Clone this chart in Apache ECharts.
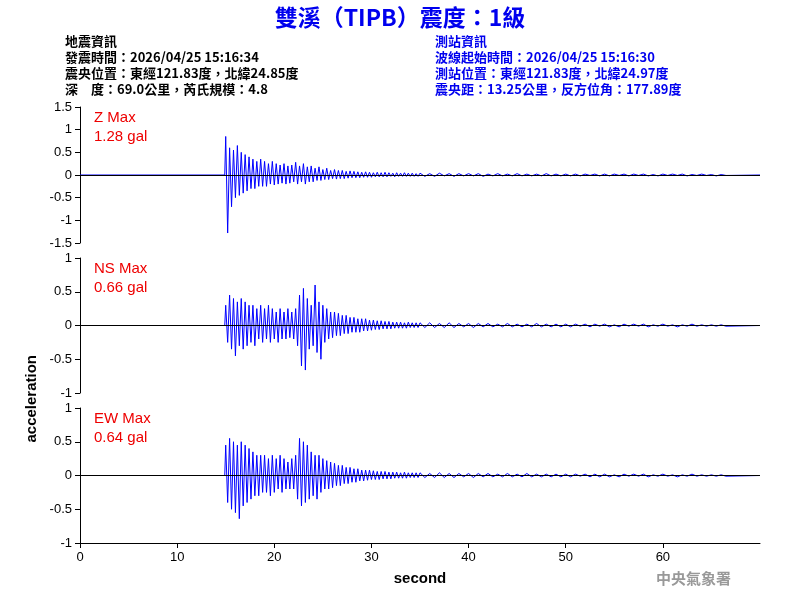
<!DOCTYPE html>
<html><head><meta charset="utf-8">
<script src="https://cdn.jsdelivr.net/npm/echarts@6/dist/echarts.min.js"></script>
<style>body{margin:0}#c{width:800px;height:600px}</style></head>
<body><div id="c"></div>
<script>
const segStart=15.0, segStep=0.2, tailStart=35.0, tailStep=0.5;
const zVals=[0.85,-1.28,0.6,-0.7,0.55,-0.5,0.65,-0.45,0.5,-0.4,
0.45,-0.35,0.4,-0.3,0.35,-0.3,0.3,-0.25,0.35,-0.25,
0.3,-0.25,0.25,-0.2,0.3,-0.22,0.25,-0.2,0.22,-0.18,
0.25,-0.2,0.2,-0.18,0.22,-0.15,0.28,-0.2,0.2,-0.15,
0.25,-0.2,0.18,-0.15,0.2,-0.15,0.15,-0.12,0.18,-0.12,
0.12,-0.1,0.15,-0.1,0.1,-0.08,0.12,-0.09,0.1,-0.08,
0.1,-0.08,0.08,-0.07,0.09,-0.06,0.08,-0.06,0.07,-0.06,
0.06,-0.05,0.07,-0.05,0.06,-0.05,0.05,-0.04,0.06,-0.04,
0.05,-0.04,0.06,-0.04,0.05,-0.03,0.04,-0.04,0.05,-0.03,
0.04,-0.03,0.05,-0.03,0.04,-0.03,0.04,-0.03,0.03,-0.03];
const zTail=[0.04,-0.03,0.03,-0.03,0.04,-0.02,0.03,-0.03,0.03,-0.02,0.03,-0.02,0.03,-0.03,0.02,-0.02,0.03,-0.02,0.02,-0.02,0.03,-0.02,0.02,-0.02,0.02,-0.02,0.03,-0.02,0.02,-0.02,0.02,-0.02,0.02,-0.02,0.02,-0.01,0.02,-0.02,0.02,-0.02,0.02,-0.01,0.02,-0.02,0.02,-0.01,0.02,-0.02,0.01,-0.02,0.02,-0.01,0.02,-0.01,0.02,-0.02,0.01,-0.01,0.02,-0.01,0.01,-0.02,0.01,-0.01];
const nsVals=[0.3,-0.25,0.45,-0.35,0.4,-0.45,0.35,-0.3,0.4,-0.35,
0.35,-0.3,0.3,-0.25,0.3,-0.3,0.25,-0.2,0.3,-0.25,
0.25,-0.2,0.3,-0.25,0.25,-0.2,0.2,-0.25,0.25,-0.2,
0.2,-0.2,0.25,-0.18,0.2,-0.2,0.25,-0.3,0.45,-0.6,
0.55,-0.66,0.4,-0.35,0.3,-0.3,0.6,-0.4,0.35,-0.5,
0.3,-0.25,0.25,-0.2,0.2,-0.18,0.2,-0.15,0.18,-0.15,
0.15,-0.12,0.15,-0.12,0.12,-0.1,0.12,-0.1,0.1,-0.1,
0.1,-0.08,0.1,-0.08,0.08,-0.07,0.08,-0.06,0.07,-0.06,
0.07,-0.05,0.06,-0.05,0.06,-0.05,0.05,-0.04,0.05,-0.04,
0.05,-0.04,0.04,-0.04,0.05,-0.03,0.04,-0.03,0.04,-0.03];
const nsTail=[0.04,-0.03,0.04,-0.03,0.03,-0.03,0.04,-0.03,0.03,-0.02,0.03,-0.03,0.03,-0.02,0.03,-0.02,0.02,-0.02,0.03,-0.02,0.02,-0.02,0.02,-0.02,0.03,-0.02,0.02,-0.02,0.02,-0.02,0.02,-0.02,0.02,-0.01,0.02,-0.02,0.02,-0.01,0.02,-0.02,0.01,-0.02,0.02,-0.01,0.02,-0.01,0.02,-0.02,0.01,-0.01,0.02,-0.01,0.01,-0.02,0.01,-0.01,0.02,-0.01,0.01,-0.01,0.01,-0.01,0.01,-0.01];
const ewVals=[0.45,-0.4,0.55,-0.5,0.5,-0.55,0.45,-0.64,0.5,-0.45,
0.45,-0.4,0.4,-0.35,0.35,-0.3,0.3,-0.3,0.3,-0.25,
0.3,-0.25,0.25,-0.3,0.3,-0.25,0.25,-0.2,0.3,-0.25,
0.25,-0.2,0.2,-0.2,0.25,-0.2,0.3,-0.35,0.55,-0.45,
0.5,-0.4,0.45,-0.35,0.35,-0.3,0.3,-0.35,0.3,-0.25,
0.25,-0.2,0.22,-0.2,0.2,-0.18,0.18,-0.15,0.15,-0.15,
0.15,-0.12,0.12,-0.12,0.12,-0.1,0.1,-0.1,0.1,-0.08,
0.08,-0.08,0.08,-0.07,0.08,-0.06,0.07,-0.06,0.06,-0.06,
0.06,-0.05,0.06,-0.05,0.05,-0.05,0.05,-0.04,0.05,-0.04,
0.04,-0.04,0.05,-0.04,0.04,-0.03,0.04,-0.03,0.04,-0.03];
const ewTail=[0.04,-0.03,0.03,-0.03,0.04,-0.03,0.03,-0.03,0.03,-0.02,0.03,-0.03,0.03,-0.02,0.03,-0.02,0.02,-0.02,0.03,-0.02,0.02,-0.02,0.03,-0.02,0.02,-0.02,0.02,-0.02,0.02,-0.02,0.02,-0.02,0.02,-0.01,0.02,-0.02,0.02,-0.02,0.02,-0.02,0.01,-0.02,0.02,-0.01,0.02,-0.01,0.02,-0.02,0.01,-0.01,0.02,-0.01,0.01,-0.02,0.01,-0.01,0.02,-0.01,0.01,-0.01,0.01,-0.01,0.01,-0.01];
const xTicks=[0,10,20,30,40,50,60];
const titleText='雙溪（TIPB）震度：1級';
const infoLeft=['地震資訊','發震時間：2026/04/25 15:16:34','震央位置：東經121.83度，北緯24.85度','深　度：69.0公里，芮氏規模：4.8'];
const infoRight=['測站資訊','波線起始時間：2026/04/25 15:16:30','測站位置：東經121.83度，北緯24.97度','震央距：13.25公里，反方位角：177.89度'];
const labels=[['Z Max','1.28 gal'],['NS Max','0.66 gal'],['EW Max','0.64 gal']];
function build(v,t){const d=[[0,0],[14.9,0]];v.forEach((y,i)=>d.push([segStart+i*segStep,y]));t.forEach((y,i)=>d.push([tailStart+i*tailStep,y]));d.push([70,0]);return d;}
const traces=[build(zVals,zTail),build(nsVals,nsTail),build(ewVals,ewTail)];
const tops=[107,258,408], hts=[136,135,135], ranges=[1.5,1,1];
const ch=echarts.init(document.getElementById('c'));
const font='Arial, Liberation Sans';
const grids=tops.map((t,i)=>({left:80,width:680,top:t,height:hts[i]}));
const xAxes=tops.map((t,i)=>({type:'value',gridIndex:i,min:0,max:70,interval:10,show:i===2,
 axisLine:{onZero:false,lineStyle:{color:'#000'}},axisTick:{length:5,lineStyle:{color:'#000'},customValues:xTicks},
 axisLabel:{color:'#000',fontSize:13,fontFamily:font,customValues:xTicks},splitLine:{show:false},
 name:i===2?'second':'',nameLocation:'middle',nameGap:28,nameTextStyle:{color:'#000',fontSize:15,fontWeight:'bold',fontFamily:font}}));
const yAxes=tops.map((t,i)=>({type:'value',gridIndex:i,min:-ranges[i],max:ranges[i],interval:0.5,
 axisLine:{show:true,lineStyle:{color:'#000'}},axisTick:{show:true,length:5,lineStyle:{color:'#000'}},
 axisLabel:{color:'#000',fontSize:13,fontFamily:font},splitLine:{show:false}}));
const series=traces.map((d,i)=>({type:'line',xAxisIndex:i,yAxisIndex:i,data:d,showSymbol:false,symbol:'none',
 lineStyle:{color:'#0000ff',width:1},animation:false,
 markLine:{silent:true,symbol:'none',label:{show:false},lineStyle:{color:'#000',type:'solid',width:1},data:[{yAxis:0}]}}));
const g=[{type:'text',left:'center',top:6,style:{text:titleText,fill:'#0000ee',font:'bold 23px "Noto Sans CJK TC", Arial'}}];
infoLeft.forEach((s,i)=>g.push({type:'text',left:65,top:35+i*16,style:{text:s,fill:'#000',font:'bold 13px "Noto Sans CJK TC", Arial'}}));
infoRight.forEach((s,i)=>g.push({type:'text',left:435,top:35+i*16,style:{text:s,fill:'#0000ee',font:'bold 13px "Noto Sans CJK TC", Arial'}}));
labels.forEach((l,i)=>{g.push({type:'text',left:94,top:tops[i]+3,style:{text:l[0],fill:'#ee0000',font:'15px Arial'}});
 g.push({type:'text',left:94,top:tops[i]+22,style:{text:l[1],fill:'#ee0000',font:'15px Arial'}});});
g.push({type:'text',left:24,top:355,rotation:Math.PI/2,style:{text:'acceleration',fill:'#000',font:'bold 15px Arial'}});
g.push({type:'text',left:656,top:571,style:{text:'中央氣象署',fill:'#999',font:'bold 15px "Noto Sans CJK TC"'}});
ch.setOption({animation:false,backgroundColor:'#fff',grid:grids,xAxis:xAxes,yAxis:yAxes,series,graphic:g});
</script></body></html>
